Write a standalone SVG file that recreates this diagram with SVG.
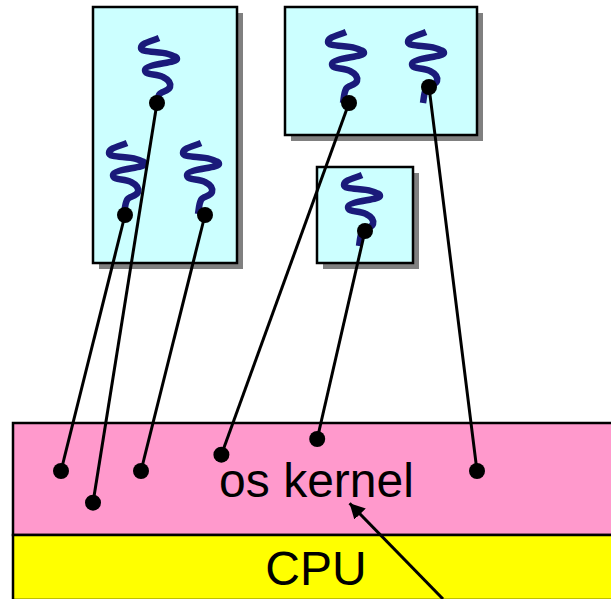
<svg xmlns="http://www.w3.org/2000/svg" width="611" height="599" viewBox="0 0 611 599">
<style>
.shadow{fill:#808080}
.proc{fill:#ccffff;stroke:#000;stroke-width:2.5}
.band{stroke:#000;stroke-width:2.5}
.sq{fill:none;stroke:#1a1a7a;stroke-width:6.5;stroke-linecap:butt;stroke-linejoin:round}
.dot{fill:#000}
.wire{fill:none;stroke:#000;stroke-width:3}
text{font-family:"Liberation Sans",Arial,sans-serif;font-size:48px;fill:#000;text-anchor:middle}
</style>
<defs>
<path id="s" class="sq" d="M3,-64C-4,-61 -15,-59 -15,-54C-15,-49 3,-51 12,-48C18,-46 21,-45 21,-43C21,-39 -11,-38 -11,-32C-11,-26 0,-29 7,-25C13,-22 15,-19 14,-15C12,-10 5,-11 3,-7C1,-3 1,1 0,7"/>
<marker id="arrow" markerUnits="userSpaceOnUse" markerWidth="16" markerHeight="16" refX="15" refY="8" orient="auto"><path d="M0,0L15,8L0,16Z" fill="#000"/></marker>
</defs>
<g id="kernel"><rect class="band" x="13" y="423" width="600" height="112" fill="#ff99cc"/><text x="316.5" y="497">os kernel</text></g>
<g id="cpu"><rect class="band" x="13" y="535" width="600" height="65" fill="#ffff00"/><text x="316" y="585">CPU</text></g>
<g id="process-1"><rect class="shadow" x="99" y="13" width="144" height="256"/><rect class="proc" x="93" y="7" width="144" height="256"/>
<use href="#s" x="156" y="102"/><use href="#s" x="124" y="207"/><use href="#s" x="198" y="207"/></g>
<g id="process-2"><rect class="shadow" x="291" y="13" width="192" height="128"/><rect class="proc" x="285" y="7" width="192" height="128"/>
<use href="#s" x="343" y="96"/><use href="#s" x="423" y="96"/></g>
<g id="process-3"><rect class="shadow" x="323" y="173" width="96" height="96"/><rect class="proc" x="317" y="167" width="96" height="96"/>
<use href="#s" x="359" y="239"/></g>
<g id="connectors">
<path class="wire" d="M157,103L93,502.7"/><path class="wire" d="M125,215L61,471"/><path class="wire" d="M205,215L141,471"/>
<path class="wire" d="M349,103L221.4,454.7"/><path class="wire" d="M429,87L477,471"/><path class="wire" d="M365,231L317.2,439"/>
<path class="wire" d="M443,599L349.6,503.3" marker-end="url(#arrow)"/>
<g class="dot"><circle cx="157" cy="103" r="8"/><circle cx="125" cy="215" r="8"/><circle cx="205" cy="215" r="8"/><circle cx="349" cy="103" r="8"/><circle cx="429" cy="87" r="8"/><circle cx="365" cy="231" r="8"/><circle cx="61" cy="471" r="8"/><circle cx="93" cy="502.7" r="8"/><circle cx="141" cy="471" r="8"/><circle cx="221.4" cy="454.7" r="8"/><circle cx="317.2" cy="439" r="8"/><circle cx="477" cy="471" r="8"/></g>
</g>
</svg>
